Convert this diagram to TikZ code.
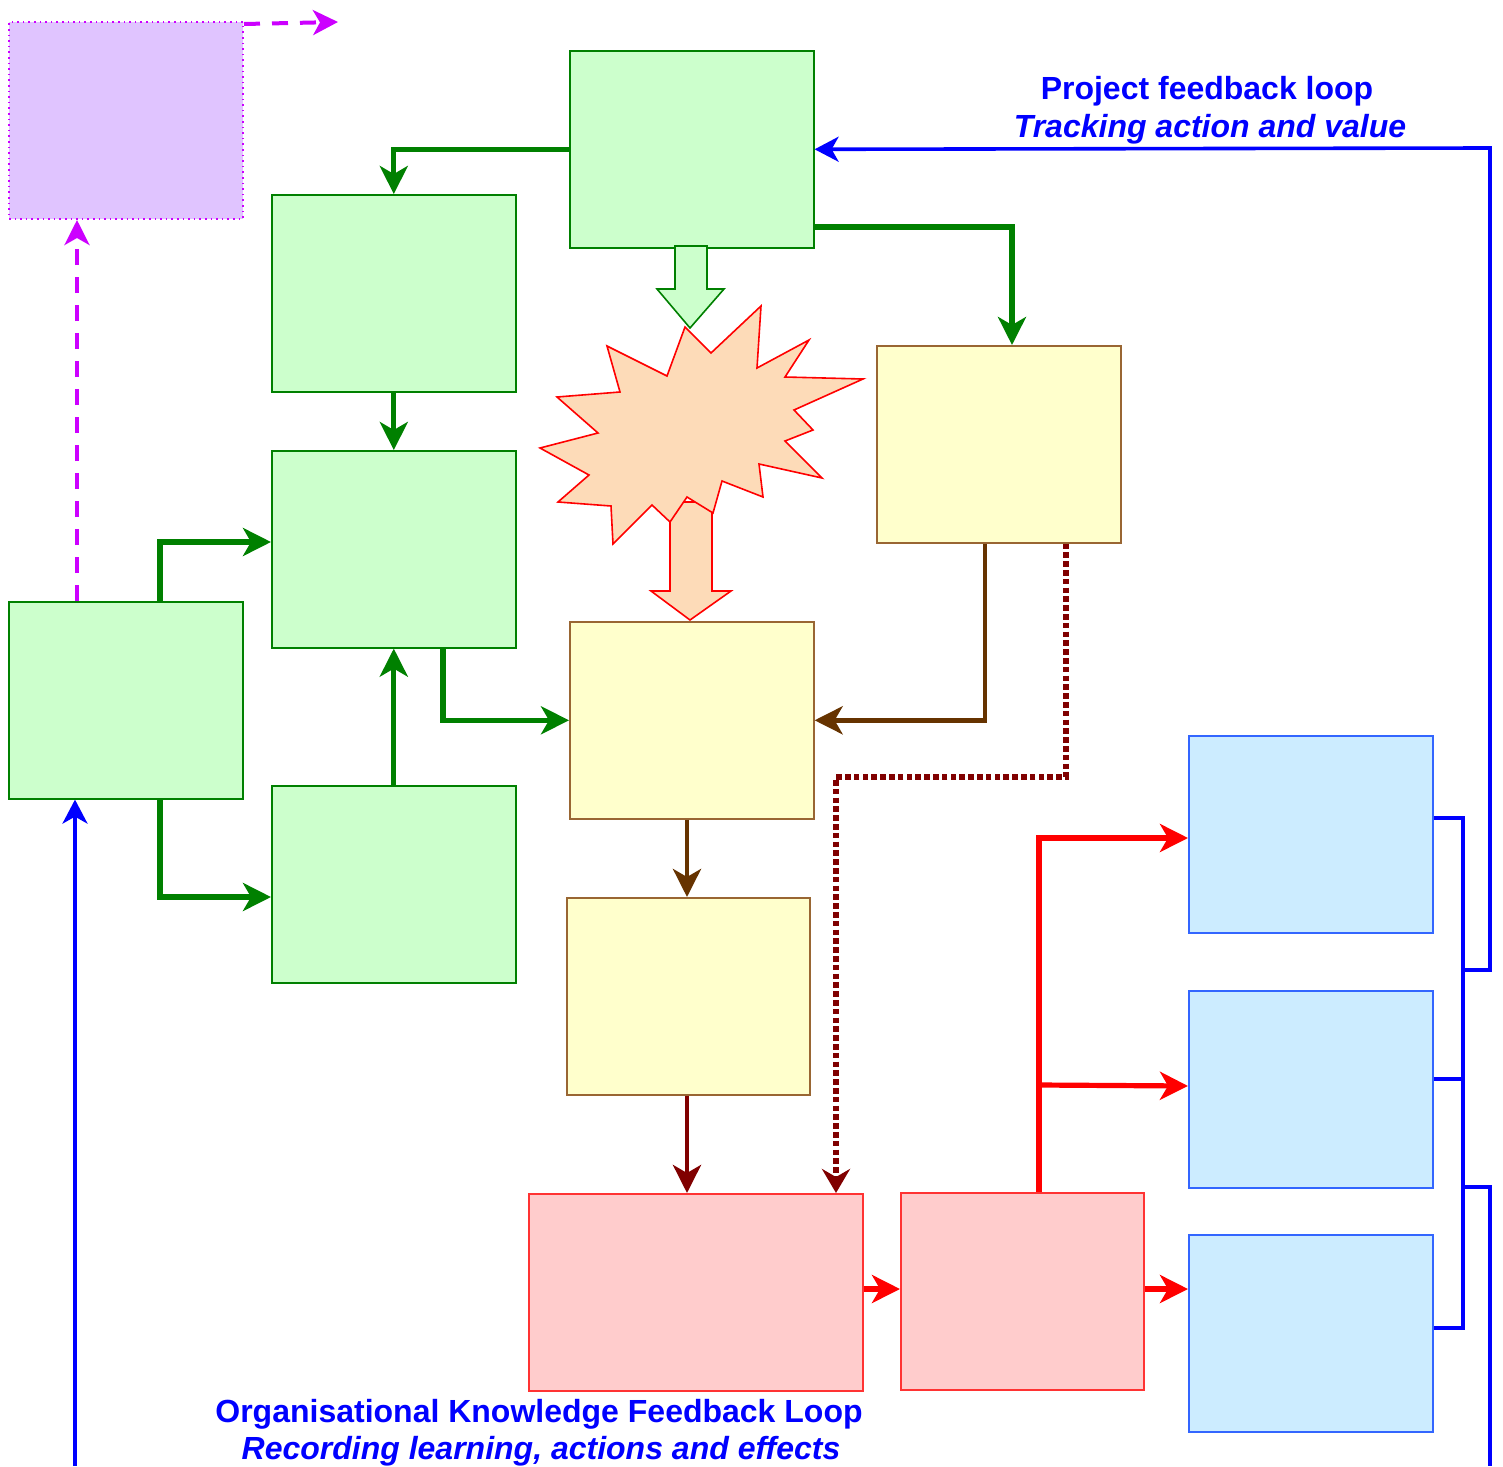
\documentclass[tikz,border=0pt]{standalone}
\usepackage{fontspec}
\setmainfont{Liberation Sans}
\usetikzlibrary{arrows.meta}
\definecolor{gline}{HTML}{008000}
\definecolor{gfill}{HTML}{CCFFCC}
\definecolor{yfill}{HTML}{FFFFCC}
\definecolor{yline}{HTML}{996633}
\definecolor{rfill}{HTML}{FFCCCC}
\definecolor{rline}{HTML}{FF3333}
\definecolor{bfill}{HTML}{CCECFF}
\definecolor{bline}{HTML}{3366FF}
\definecolor{pfill}{HTML}{E0C4FF}
\definecolor{mag}{HTML}{CC00FF}
\definecolor{brown}{HTML}{663300}
\definecolor{dred}{HTML}{800000}
\definecolor{peach}{HTML}{FDDBB8}
\definecolor{blu}{HTML}{0000FF}
\tikzset{
  box/.style={rectangle, anchor=north west, minimum width=122pt, minimum height=98.5pt, inner sep=0pt, line width=0.8pt},
  gbox/.style={box, draw=gline, fill=gfill},
  ybox/.style={box, draw=yline, fill=yfill},
  rbox/.style={box, draw=rline, fill=rfill},
  bbox/.style={box, draw=bline, fill=bfill},
  tip/.style={-{Stealth[length=14pt,width=14pt,inset=4pt]}},
  garr/.style={tip, draw=gline, line width=2.6pt},
  marr/.style={-{Stealth[length=12.5pt,width=12.5pt,inset=3.5pt]}, draw=mag, line width=2pt, dash pattern=on 8pt off 6pt},
  brarr/.style={tip, draw=brown, line width=2.4pt},
  drarr/.style={tip, draw=dred, line width=2.4pt},
  dotarr/.style={-{Stealth[length=12pt,width=14pt,inset=4pt]}, draw=dred, line width=2.8pt, dash pattern=on 2.8pt off 1.6pt},
  rarr/.style={tip, draw=red, line width=2.6pt},
  bln/.style={draw=blu, line width=1.8pt},
  barr/.style={bln, -{Stealth[length=12pt,width=12.5pt,inset=3.5pt]}},
  lbl/.style={text=blu, font=\fontsize{16pt}{19pt}\selectfont\bfseries, inner sep=0pt},
  ilbl/.style={lbl, font=\fontsize{16pt}{19pt}\selectfont\bfseries\itshape}
}
\begin{document}
\begin{tikzpicture}[x=0.5pt,y=-0.5pt]
\useasboundingbox (0,0) rectangle (1503,1466);
% boxes
\node[box, draw=mag, fill=pfill, dotted, minimum width=117pt, line width=1pt] (P) at (8,21) {};
\node[gbox] (T) at (569,50) {};
\node[gbox] (G1) at (271,194) {};
\node[gbox] (G2) at (271,450) {};
\node[gbox, minimum width=117pt] (L) at (8,601) {};
\node[gbox] (G3) at (271,785) {};
\node[ybox] (Y1) at (876,345) {};
\node[ybox] (Y2) at (569,621) {};
\node[ybox, minimum width=121.5pt] (Y3) at (566,897) {};
\node[rbox, minimum width=167pt] (R1) at (528,1193) {};
\node[rbox, minimum width=121.5pt] (R2) at (900,1192) {};
\node[bbox] (B1) at (1188,735) {};
\node[bbox] (B2) at (1188,990) {};
\node[bbox] (B3) at (1188,1234) {};
% block arrow from starburst to Y2 (behind star)
\draw[red, fill=peach, line width=0.8pt] (670,502) -- (712,502) -- (712,591) -- (731,591) -- (690,620) -- (651,591) -- (670,591) -- cycle;
% starburst
\draw[red, fill=peach, line width=0.8pt] (685,327) -- (711,353) -- (761,306) -- (757,368) -- (809,340) -- (785,377) -- (863,379) -- (794,410) -- (813,430) -- (785,441) -- (822,478) -- (759,464) -- (763,497) -- (722,481) -- (713,513) -- (687,497) -- (670,522) -- (652,505) -- (613,544) -- (611,506) -- (558,502) -- (589,475) -- (540,448) -- (598,433) -- (557,397) -- (620,392) -- (607,346) -- (667,376) -- cycle;
% green block arrow from T
\draw[gline, fill=gfill, line width=0.8pt] (675,246) -- (707,246) -- (707,289) -- (724,289) -- (690,328) -- (657,289) -- (675,289) -- cycle;
% green connectors
\draw[garr] (T.west) -| (G1.north);
\draw[garr] (T.east |- 0,227) -| (Y1.north -| 1012,0);
\draw[garr] (G1.south) -- (G2.north);
\draw[garr] (G3.north) -- (G2.south);
\draw[garr] (G2.south -| 443,0) |- (Y2.west);
\draw[garr] (L.north -| 160,0) |- (G2.west |- 0,542);
\draw[garr] (L.south -| 160,0) |- (G3.west |- 0,897);
% magenta dashed
\draw[marr] (L.north -| 77,0) -- (P.south -| 77,0);
\coordinate (Pout) at (338,22);
\draw[marr] (P.north east |- 0,24) -- (Pout);
% brown / dark red
\draw[brarr] (Y1.south -| 985,0) |- (Y2.east);
\draw[dotarr] (Y1.south -| 1066,0) |- (836,777) -- (R1.north -| 836,0);
\draw[brarr] (Y2.south -| 687,0) -- (Y3.north -| 687,0);
\draw[drarr] (Y3.south -| 687,0) -- (R1.north -| 687,0);
% red
\draw[rarr] (R1.east |- 0,1289) -- (R2.west |- 0,1289);
\draw[rarr] (R2.east |- 0,1289) -- (B3.west |- 0,1289);
\draw[rarr] (R2.north -| 1039,0) |- (B1.west |- 0,838);
\draw[rarr] (1039,1085) -- (B2.west |- 0,1086);
% blue
\draw[bln] (B1.east |- 0,818) -| (1463,1328) -- (B3.east |- 0,1328);
\draw[bln] (B2.east |- 0,1079) -- (1463,1079);
\draw[barr] (1463,970) -| (1490,148) -- (T.east);
\coordinate (BR) at (1490,1466);
\draw[bln] (1463,1187) -| (BR);
\coordinate (BL) at (75,1466);
\draw[barr] (BL) -- (L.south -| 75,0);
% labels
\node[lbl] (t1) at (1207,91) {Project feedback loop};
\node[ilbl] (t2) at (1210,129) {Tracking action and value};
\node[lbl] (t3) at (539,1414) {Organisational Knowledge Feedback Loop};
\node[ilbl] (t4) at (541,1451) {Recording learning, actions and effects};
\end{tikzpicture}
\end{document}
